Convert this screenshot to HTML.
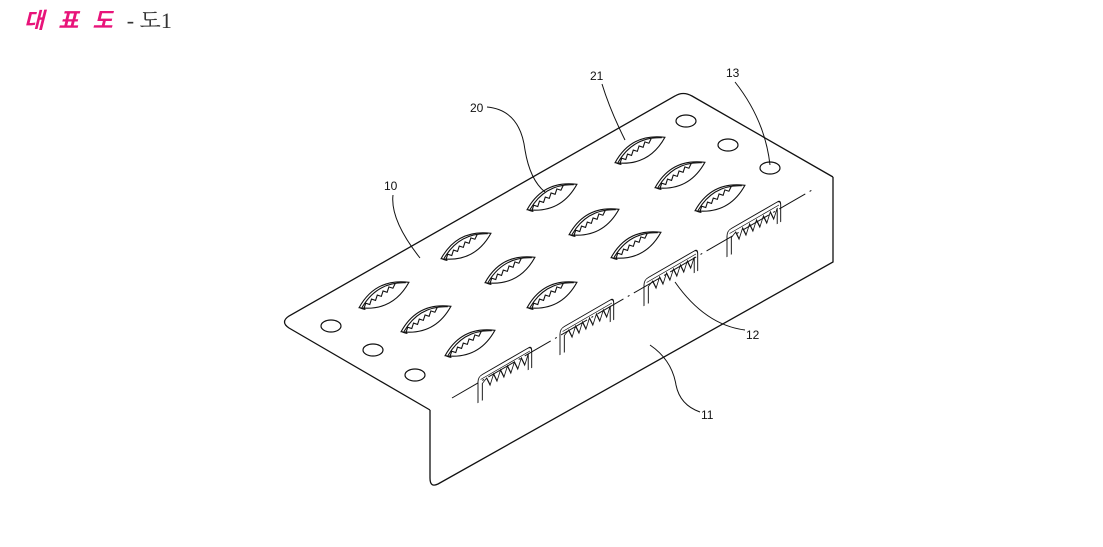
<!DOCTYPE html>
<html><head><meta charset="utf-8"><style>
body{margin:0;width:1103px;height:547px;background:#fff;overflow:hidden;position:relative}
.t{position:absolute;left:24px;top:3px;font-family:"Liberation Serif","Noto Serif CJK SC",serif;font-size:22px}
.r{color:#e8147a;font-style:italic;font-weight:bold;letter-spacing:14px;font-family:"Liberation Sans","Noto Sans CJK KR",sans-serif}
.g{color:#333}
</style></head><body>
<div class="t"><span class="r">대표도</span><span class="g">- 도1</span></div>
<svg width="1103" height="547" style="position:absolute;left:0;top:0" fill="none" stroke="#111" stroke-width="1.3">
<defs>
<g id="leaf" transform="rotate(-27)">
<path d="M-28,0 Q0,-19 28,0 Q0,19 -28,0 Z"/>
<path d="M-25,1 Q0,-15 25,-1"/>
<path d="M-24,3 l4,-4 l3,3 l4,-4 l3,3 l4,-4 l3,3 l4,-4 l3,3 l4,-4 l3,3 l4,-3"/>
<path d="M-27,1 Q-22,6 -24,3"/>
</g>
<g id="clip">
<path d="M0,26 V5 Q0,0 5,0 H58 Q62,0 62,5 V22 M58,22 V6 L54,15 L50,6 L46,15 L42,6 L38,15 L34,6 L30,15 L26,6 L22,15 L18,6 L14,15 L10,6 L5,9 V26"/>
<path d="M3,4 H60" stroke-width="0.8"/>
</g>
</defs>
<path d="M430,410 L289,328 Q280,322 289,316 L675,96 Q683,91 692,96 L833,177"/>
<path d="M430,410 V478 Q430,488 438,484 L833,262 V177"/>
<path d="M452,398 L812,190" stroke-dasharray="30,5,2,5" stroke-width="1"/>
<g stroke-width="1.2">
<ellipse cx="331" cy="326" rx="10" ry="6"/><ellipse cx="373" cy="350" rx="10" ry="6"/><ellipse cx="415" cy="375" rx="10" ry="6"/>
<ellipse cx="686" cy="121" rx="10" ry="6"/><ellipse cx="728" cy="145" rx="10" ry="6"/><ellipse cx="770" cy="168" rx="10" ry="6"/>
</g>
<g stroke-width="1.1">
<use href="#leaf" x="384" y="295"/><use href="#leaf" x="466" y="246"/><use href="#leaf" x="552" y="197"/><use href="#leaf" x="640" y="150"/>
<use href="#leaf" x="426" y="319"/><use href="#leaf" x="510" y="270"/><use href="#leaf" x="594" y="222"/><use href="#leaf" x="680" y="175"/>
<use href="#leaf" x="470" y="343"/><use href="#leaf" x="552" y="295"/><use href="#leaf" x="636" y="245"/><use href="#leaf" x="720" y="198"/>
</g>
<g stroke-width="1.1">
<g transform="translate(478,377) matrix(0.866,-0.5,0,1,0,0)"><use href="#clip"/></g>
<g transform="translate(560,329) matrix(0.866,-0.5,0,1,0,0)"><use href="#clip"/></g>
<g transform="translate(644,280) matrix(0.866,-0.5,0,1,0,0)"><use href="#clip"/></g>
<g transform="translate(727,231) matrix(0.866,-0.5,0,1,0,0)"><use href="#clip"/></g>
</g>
<g stroke-width="1">
<path d="M393,195 Q390,220 420,258"/>
<path d="M487,107 Q520,110 525,150 Q530,180 545,192"/>
<path d="M602,84 Q610,110 625,140"/>
<path d="M735,82 Q765,120 770,165"/>
<path d="M745,330 Q705,325 675,282"/>
<path d="M700,412 Q680,405 676,385 Q672,360 650,345"/>
</g>
<g font-family="Liberation Sans,sans-serif" font-size="12" fill="#111" stroke="none">
<text x="384" y="190">10</text><text x="470" y="112">20</text><text x="590" y="80">21</text>
<text x="726" y="77">13</text><text x="746" y="339">12</text><text x="701" y="419">11</text>
</g>
</svg>
</body></html>
